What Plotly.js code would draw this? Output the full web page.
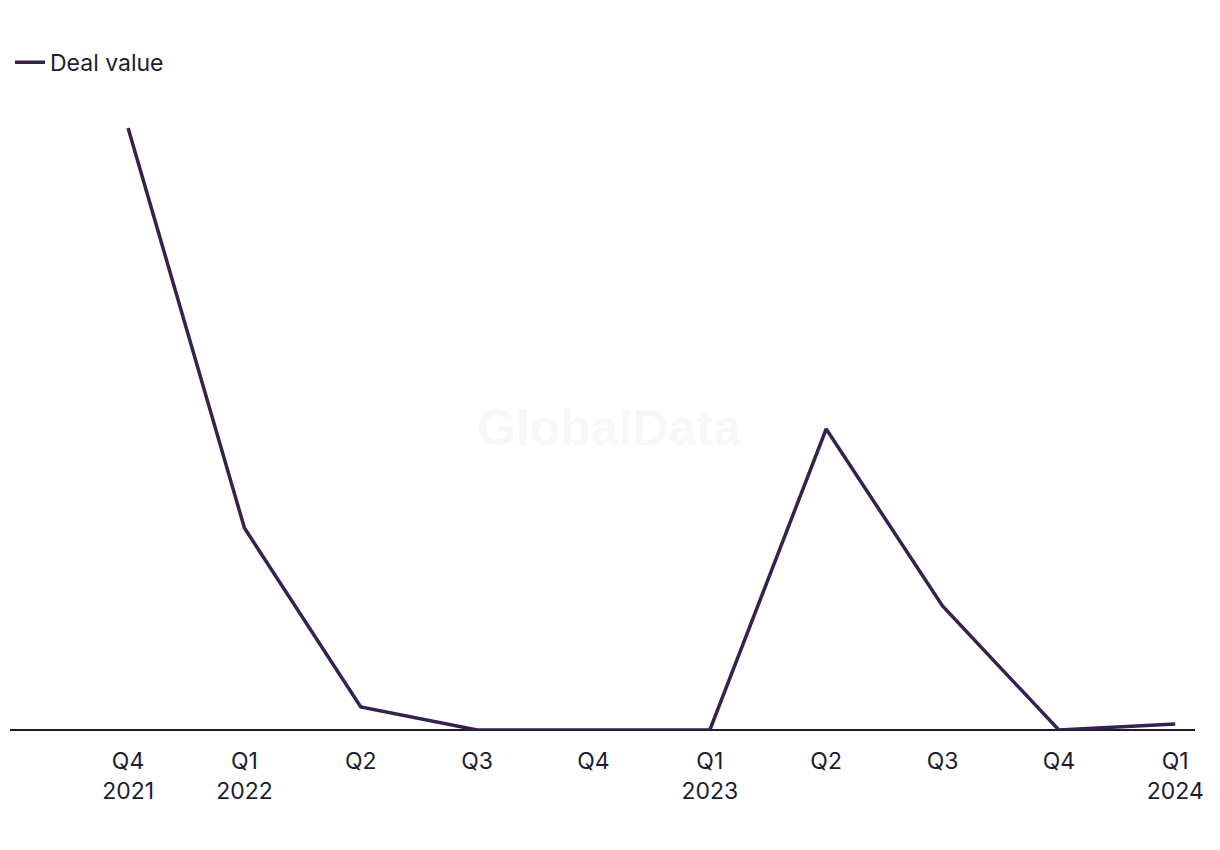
<!DOCTYPE html>
<html>
<head>
<meta charset="utf-8">
<script src="https://cdn.plot.ly/plotly-3.0.1.min.js"></script>
<style>html,body{margin:0;padding:0;background:#fff;}#chart{width:1220px;height:850px;}</style>
</head>
<body>
<div id="chart"></div>
<script>
const categories = ["Q4<br>2021","Q1<br>2022","Q2","Q3","Q4","Q1<br>2023","Q2","Q3","Q4","Q1<br>2024"];
const dealValue = [30.1, 10.1, 1.15, 0, 0, 0, 15.05, 6.2, 0, 0.3];
const seriesName = "Deal value";

const xIdx = categories.map((_, i) => i);

const trace = {
  x: xIdx,
  y: dealValue,
  type: "scatter",
  mode: "lines",
  name: seriesName,
  line: {color: "#36214f", width: 3.5},
  hoverinfo: "y"
};

const layout = {
  width: 1220,
  height: 850,
  margin: {l: 10, r: 25, t: 100, b: 120},
  paper_bgcolor: "#ffffff",
  plot_bgcolor: "#ffffff",
  font: {family: "Inter, 'Open Sans', sans-serif", color: "#1d1d2f", size: 23},
  showlegend: true,
  legend: {
    orientation: "h",
    x: 0, xanchor: "left",
    y: 1.06, yanchor: "middle",
    font: {size: 23, color: "#1d1d2f"},
    bgcolor: "rgba(0,0,0,0)"
  },
  xaxis: {
    range: [-1.015, 9.17],
    tickmode: "array",
    tickvals: xIdx,
    ticktext: categories,
    showgrid: false,
    zeroline: false,
    showline: false,
    ticks: "",
    ticklabelstandoff: 15,
    tickfont: {size: 23, color: "#1d1d2f"},
    fixedrange: true
  },
  yaxis: {
    range: [0, 31.5],
    showgrid: false,
    zeroline: true,
    zerolinecolor: "#1a1a2e",
    zerolinewidth: 2,
    showticklabels: false,
    ticks: "",
    showline: false,
    fixedrange: true
  },
  annotations: [{
    text: "<b>GlobalData</b>",
    xref: "paper", yref: "paper",
    x: 0.506, y: 0.48,
    showarrow: false,
    font: {size: 50, color: "#f7f7f7", family: "Liberation Sans, Arial, sans-serif"}
  }]
};

Plotly.newPlot("chart", [trace], layout, {displayModeBar: false, staticPlot: true});
</script>
</body>
</html>
